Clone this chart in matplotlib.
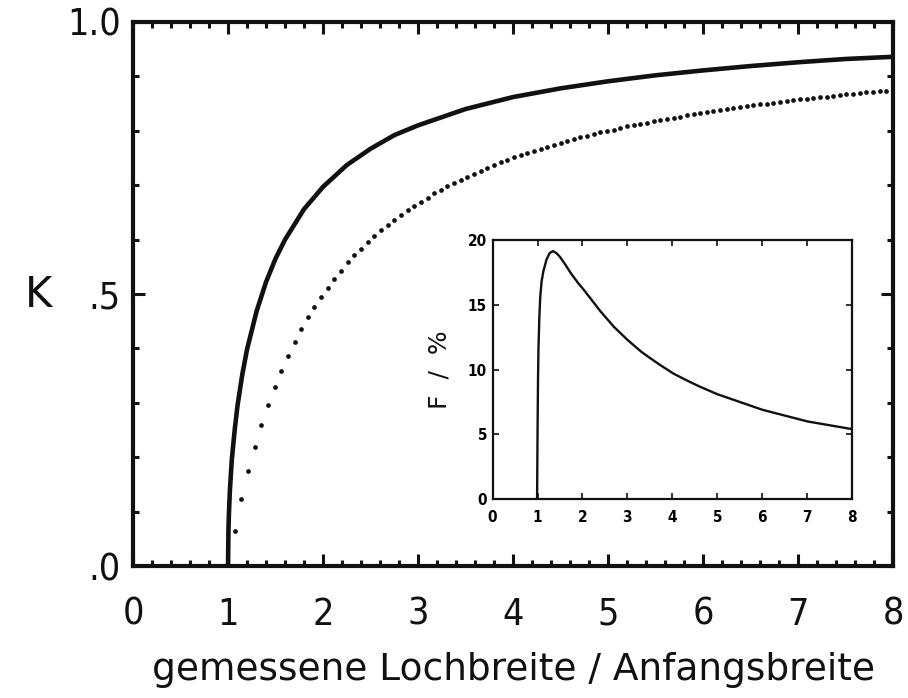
import numpy as np
import matplotlib
matplotlib.use("Agg")
import matplotlib.pyplot as plt
from matplotlib.ticker import MultipleLocator, FixedLocator

# solid curve K(x)
k_solid_x = [1.0, 1.005, 1.01, 1.02, 1.04, 1.07, 1.10, 1.15, 1.20, 1.30, 1.40, 1.50,
             1.60, 1.80, 2.00, 2.25, 2.50, 2.75, 3.00, 3.50, 4.00, 4.50, 5.00, 5.50,
             6.00, 6.50, 7.00, 7.50, 8.00]
k_solid_y = [0.000, 0.070, 0.099, 0.140, 0.196, 0.250, 0.295, 0.352, 0.398, 0.468, 0.522, 0.565,
             0.600, 0.656, 0.697, 0.737, 0.767, 0.792, 0.810, 0.840, 0.862, 0.878, 0.891, 0.902,
             0.911, 0.919, 0.926, 0.932, 0.936]

# dotted curve, one dot every 0.07
k_dot_x = np.linspace(1.0, 8.0, 101)
k_dot_y = [0.000, 0.065, 0.123, 0.174, 0.219, 0.259, 0.296, 0.329, 0.359, 0.387,
           0.412, 0.435, 0.457, 0.476, 0.495, 0.512, 0.528, 0.543, 0.558, 0.571,
           0.583, 0.595, 0.606, 0.617, 0.627, 0.636, 0.645, 0.654, 0.662, 0.670,
           0.677, 0.685, 0.691, 0.698, 0.704, 0.710, 0.716, 0.721, 0.727, 0.732,
           0.737, 0.742, 0.746, 0.751, 0.755, 0.759, 0.763, 0.767, 0.771, 0.774,
           0.778, 0.781, 0.785, 0.788, 0.791, 0.794, 0.797, 0.800, 0.802, 0.805,
           0.808, 0.810, 0.813, 0.815, 0.818, 0.820, 0.822, 0.824, 0.826, 0.829,
           0.831, 0.833, 0.834, 0.836, 0.838, 0.840, 0.842, 0.844, 0.845, 0.847,
           0.849, 0.850, 0.852, 0.853, 0.855, 0.856, 0.858, 0.859, 0.860, 0.862,
           0.863, 0.864, 0.866, 0.867, 0.868, 0.869, 0.871, 0.872, 0.873, 0.874,
           0.875]

# inset: F in percent
f_x = [0.99, 1.00, 1.01, 1.02, 1.04, 1.06, 1.09, 1.13, 1.20, 1.27, 1.34, 1.42, 1.50,
       1.60, 1.75, 1.90, 2.02, 2.20, 2.40, 2.55, 2.70, 2.85, 3.00, 3.30, 3.50, 3.73,
       4.02, 4.30, 4.60, 5.00, 5.50, 6.00, 6.50, 7.00, 7.50, 8.00]
f_y = [0.0, 5.0, 9.0, 11.5, 14.0, 15.6, 16.8, 17.6, 18.5, 19.0, 19.15, 19.0, 18.7,
       18.2, 17.4, 16.7, 16.2, 15.4, 14.5, 13.9, 13.3, 12.8, 12.3, 11.4, 10.9, 10.35,
       9.7, 9.2, 8.7, 8.1, 7.5, 6.9, 6.45, 6.0, 5.7, 5.4]

main_xticks = [0, 1, 2, 3, 4, 5, 6, 7, 8]
main_yticks = [0.0, 0.5, 1.0]
main_ylabels = ['.0', '.5', '1.0']
inset_yticks = [0, 5, 10, 15, 20]

plt.rcParams['font.family'] = 'DejaVu Sans'

fig = plt.figure(figsize=(9.08, 6.98), dpi=100)
ax = fig.add_axes([0.1465, 0.189, 0.837, 0.7795])

ax.plot(k_solid_x, k_solid_y, color='#111111', lw=3.3, solid_capstyle='butt',
        solid_joinstyle='round')
ax.plot(k_dot_x, k_dot_y, ls='none', marker='o', ms=3.4, color='#111111', mec='none')

ax.set_xlim(0, 8)
ax.set_ylim(0, 1)
ax.xaxis.set_major_locator(FixedLocator(main_xticks))
ax.xaxis.set_minor_locator(MultipleLocator(0.2))
ax.yaxis.set_major_locator(FixedLocator(main_yticks))
ax.yaxis.set_minor_locator(MultipleLocator(0.1))
ax.set_yticklabels(main_ylabels)

for s in ax.spines.values():
    s.set_linewidth(3.0)
    s.set_color('#111111')

ax.tick_params(which='both', direction='in', top=True, right=True, color='#111111')
ax.tick_params(which='major', length=8.5, width=2.2)
ax.tick_params(which='minor', length=4.5, width=2.2)
ax.tick_params(axis='x', which='major', pad=22, labelsize=27)
ax.tick_params(axis='y', which='major', pad=9, labelsize=27)
for lab in ax.get_xticklabels() + ax.get_yticklabels():
    lab.set_fontstretch('condensed')
    lab.set_color('#111111')

ax.set_xlabel('gemessene Lochbreite / Anfangsbreite', fontsize=27, labelpad=14, color='#111111')
fig.text(0.043, 0.578, 'K', fontsize=30, ha='center', va='center', color='#111111')

# inset
ins = fig.add_axes([0.5425, 0.285, 0.396, 0.371])
ins.plot(f_x, f_y, color='#111111', lw=1.7, solid_joinstyle='round')
ins.set_xlim(0, 8)
ins.set_ylim(0, 20)
ins.set_xticks(main_xticks)
ins.set_yticks(inset_yticks)
for s in ins.spines.values():
    s.set_linewidth(1.6)
    s.set_color('#111111')
ins.tick_params(direction='in', top=True, right=True, length=4, width=1.2,
                color='#111111')
ins.tick_params(axis='x', labelsize=11, pad=8)
ins.tick_params(axis='y', labelsize=11, pad=4)
for lab in ins.get_xticklabels() + ins.get_yticklabels():
    lab.set_fontstretch('condensed')
    lab.set_fontweight('bold')
ins.set_ylabel('F  /  %', fontsize=18, labelpad=12, color='#111111')

fig.savefig('out.png', dpi=100)
